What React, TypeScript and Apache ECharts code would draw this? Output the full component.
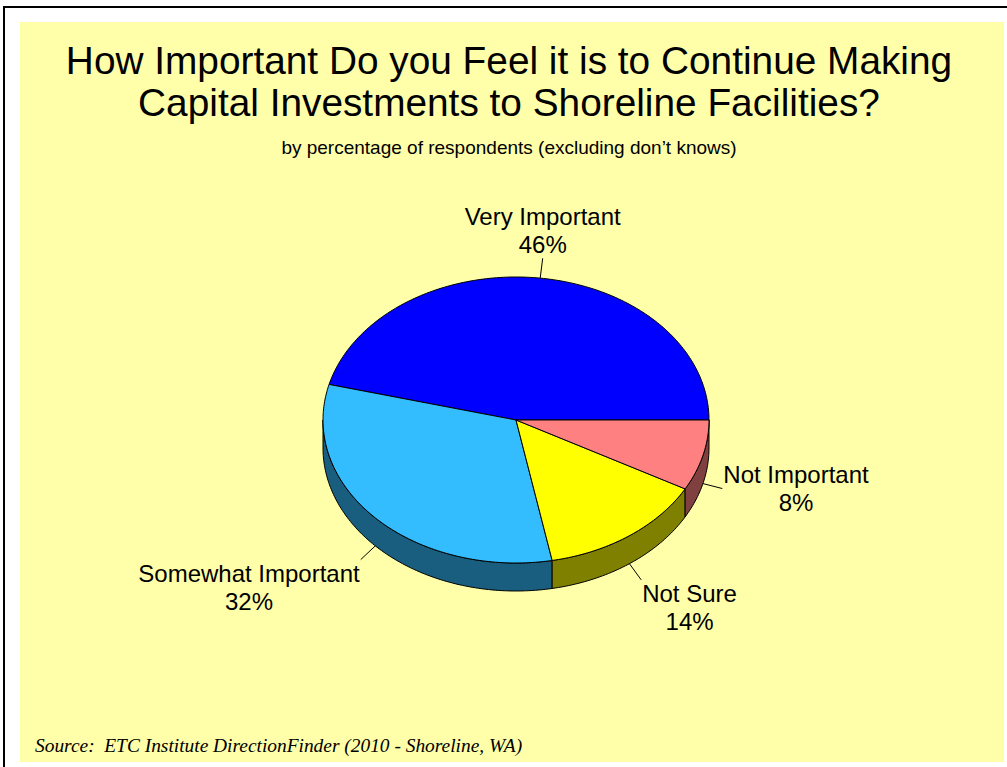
import React, { useEffect, useRef } from 'react';
import * as echarts from 'echarts';

// ---- data ----
const categories = ['Very Important', 'Somewhat Important', 'Not Sure', 'Not Important'];
const percentages = [46, 32, 14, 8];
const titleLines = [
  'How Important Do you Feel it is to Continue Making',
  'Capital Investments to Shoreline Facilities?',
];
const subtitleText = 'by percentage of respondents (excluding don\u2019t knows)';
const sourceText = 'Source:  ETC Institute DirectionFinder (2010 - Shoreline, WA)';

// ---- styles ----
const topColors = ['#0000FF', '#33BDFF', '#FFFF00', '#FF8080'];
const sideColors = ['#000080', '#195E7F', '#808000', '#804040'];
const PIE = { cx: 516, cy: 420, rx: 193, ry: 143, depth: 28, leader: 20 };
const LABEL_FONT_SIZE = 24;
const LABEL_LINE_HEIGHT = 28;
const SANS = '"Liberation Sans", Arial, sans-serif';
const SERIF = '"Liberation Serif", "Times New Roman", serif';

let measureCtx: CanvasRenderingContext2D | null = null;
function measureWidth(text: string, font: string): number {
  if (!measureCtx) {
    const c = document.createElement('canvas');
    measureCtx = c.getContext('2d');
  }
  if (!measureCtx) return text.length * 12;
  measureCtx.font = font;
  return measureCtx.measureText(text).width;
}

export default function App() {
  const ref = useRef<HTMLDivElement>(null);

  useEffect(() => {
    if (!ref.current) return;
    const chart = echarts.init(ref.current, undefined, { renderer: 'svg' });
    const total = percentages.reduce((a, b) => a + b, 0);

    const renderItem = (params: any, api: any) => {
      const i = params.dataIndex;
      const v = api.value(1) as number;
      let start = 0;
      for (let k = 0; k < i; k++) start += percentages[k];
      const a0 = (start / total) * Math.PI * 2;
      const a1 = ((start + v) / total) * Math.PI * 2;
      const { cx, cy, rx, ry, depth, leader } = PIE;
      const pt = (a: number, dy = 0) => [cx + rx * Math.cos(a), cy - ry * Math.sin(a) + dy];
      const arc = (s: number, e: number, dy: number) => {
        const n = Math.max(2, Math.ceil((e - s) / (Math.PI / 180)));
        const pts: number[][] = [];
        for (let j = 0; j <= n; j++) pts.push(pt(s + ((e - s) * j) / n, dy));
        return pts;
      };
      const children: any[] = [];
      // visible side wall (front half)
      const s = Math.max(a0, Math.PI);
      const e = Math.min(a1, Math.PI * 2);
      if (e > s) {
        children.push({
          type: 'polygon',
          shape: { points: [...arc(s, e, 0), ...arc(s, e, depth).reverse()] },
          style: { fill: sideColors[i], stroke: '#000', lineWidth: 1 },
        });
      }
      // top face
      children.push({
        type: 'polygon',
        shape: { points: [[cx, cy], ...arc(a0, a1, 0)] },
        style: { fill: topColors[i], stroke: '#000', lineWidth: 1, lineJoin: 'round' },
      });
      // leader line
      const m = (a0 + a1) / 2;
      const cm = Math.cos(m);
      const sm = Math.sin(m);
      const p = pt(m, sm < 0 ? depth : 0);
      const q = [p[0] + leader * cm, p[1] - leader * sm];
      children.push({
        type: 'line',
        shape: { x1: p[0], y1: p[1], x2: q[0], y2: q[1] },
        style: { stroke: '#000', lineWidth: 1 },
      });
      // label
      const lines = [categories[i], `${v}%`];
      const font = `${LABEL_FONT_SIZE}px "Liberation Sans"`;
      const w = Math.max(...lines.map((l) => measureWidth(l, font)));
      const x = cm > 0.3 ? q[0] + 1 + w / 2 : cm < -0.3 ? q[0] - 1 - w / 2 : q[0];
      const vAlign = sm > 0.5 ? 'bottom' : sm < -0.5 ? 'top' : 'middle';
      children.push({
        type: 'text',
        x,
        y: q[1],
        style: {
          text: lines.join('\n'),
          align: 'center',
          verticalAlign: vAlign,
          fontSize: LABEL_FONT_SIZE,
          fontFamily: SANS,
          lineHeight: LABEL_LINE_HEIGHT,
          fill: '#000',
        },
      });
      return { type: 'group', children };
    };

    chart.setOption({
      animation: false,
      backgroundColor: '#FFFFFF',
      title: [
        {
          text: titleLines.join('\n'),
          left: 509,
          top: 39,
          textAlign: 'center',
          padding: 0,
          textStyle: {
            fontSize: 38.8,
            fontWeight: 'normal',
            fontFamily: SANS,
            color: '#000',
            lineHeight: 42,
          },
        },
        {
          text: subtitleText,
          left: 509,
          top: 138,
          textAlign: 'center',
          padding: 0,
          textStyle: {
            fontSize: 19,
            fontWeight: 'normal',
            fontFamily: SANS,
            color: '#000',
            lineHeight: 19,
          },
        },
      ],
      graphic: [
        {
          type: 'rect',
          z: -10,
          shape: { x: 20, y: 22, width: 984, height: 740 },
          style: { fill: '#FFFFAA' },
        },
        {
          type: 'line',
          z: -5,
          shape: { x1: 3, y1: 7, x2: 1007, y2: 7 },
          style: { stroke: '#000', lineWidth: 2 },
        },
        {
          type: 'line',
          z: -5,
          shape: { x1: 4, y1: 6, x2: 4, y2: 767 },
          style: { stroke: '#000', lineWidth: 2 },
        },
        {
          type: 'text',
          z: 5,
          x: 35,
          y: 745,
          style: {
            text: sourceText,
            fontSize: 19.4,
            fontStyle: 'italic',
            fontFamily: SERIF,
            fill: '#000',
            verticalAlign: 'middle',
          },
        },
      ],
      series: [
        {
          type: 'custom',
          coordinateSystem: 'none',
          renderItem,
          data: percentages.map((v, i) => ({ name: categories[i], value: [i, v] })),
        },
      ],
    });

    return () => chart.dispose();
  }, []);

  return (
    <div
      ref={ref}
      style={{ position: 'absolute', left: 0, top: 0, width: 1007, height: 767 }}
    />
  );
}
